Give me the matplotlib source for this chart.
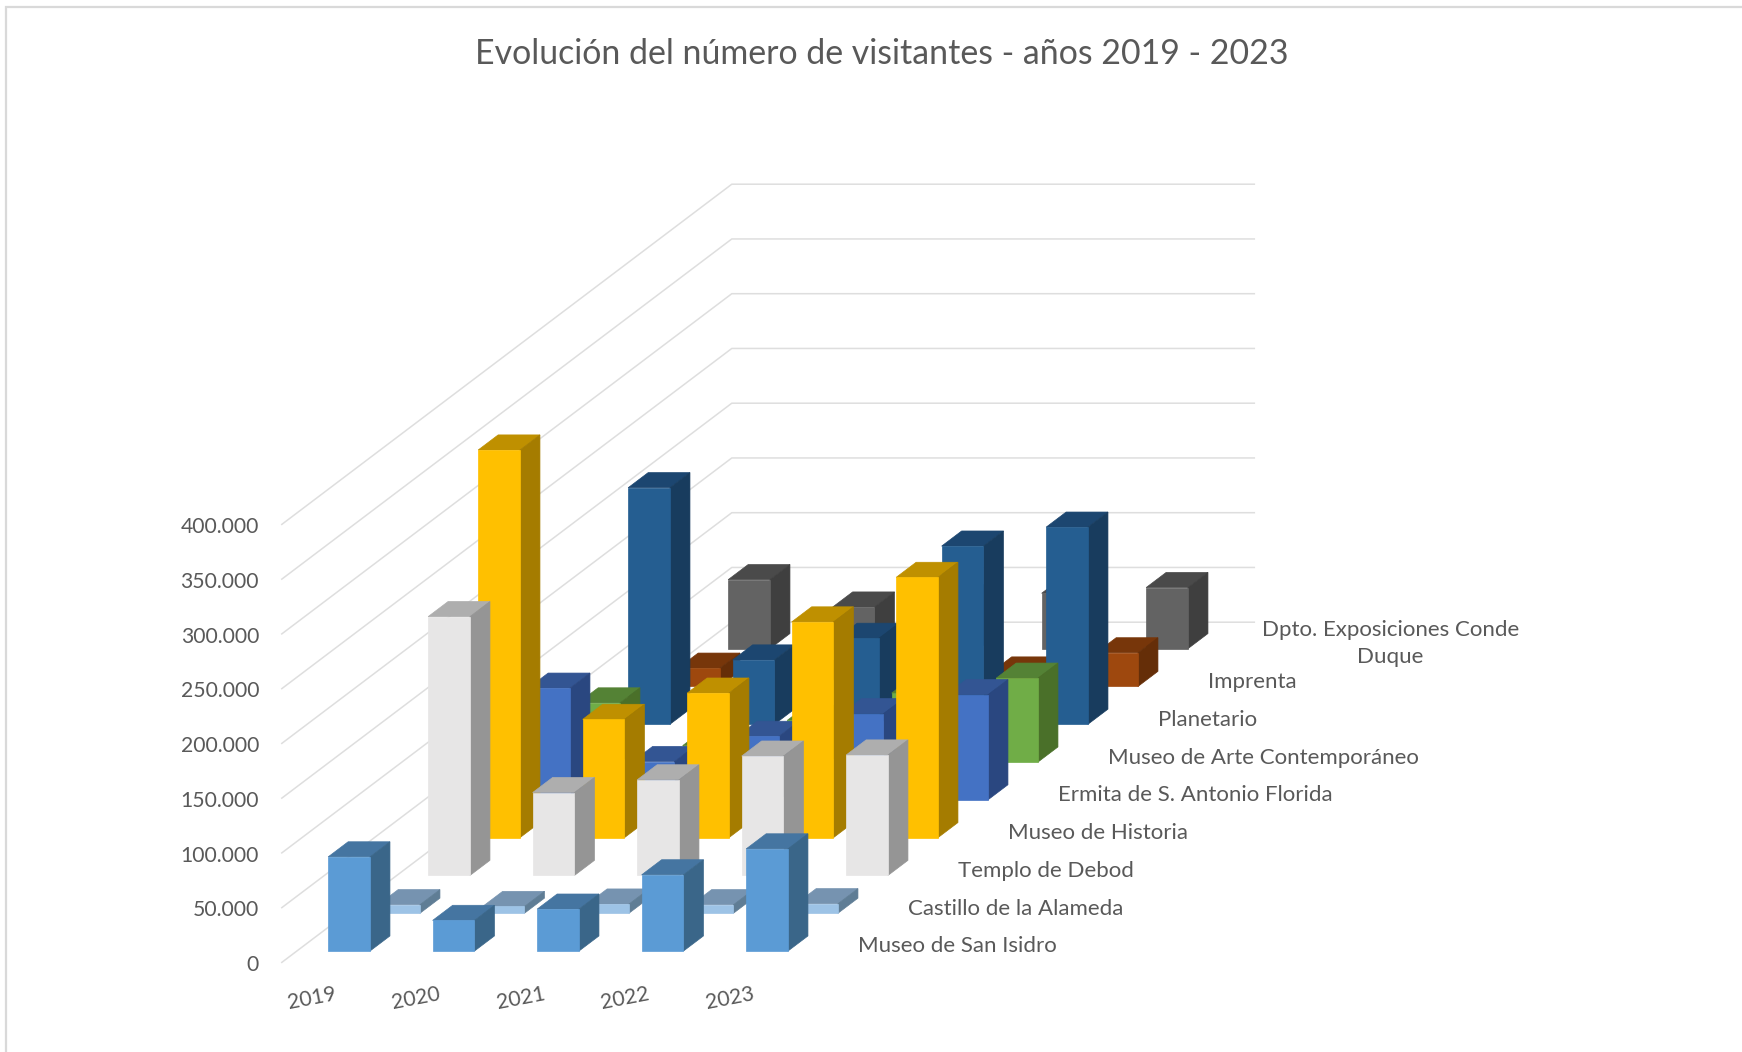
import matplotlib
matplotlib.use("Agg")
import matplotlib.pyplot as plt
from matplotlib.patches import Polygon

plt.rcParams['font.family'] = ['Lato', 'DejaVu Sans']

title = "Evolución del número de visitantes - años 2019 - 2023"
years = ["2019", "2020", "2021", "2022", "2023"]
series_names = ["Museo de San Isidro", "Castillo de la Alameda", "Templo de Debod",
                "Museo de Historia", "Ermita de S. Antonio Florida",
                "Museo de Arte Contemporáneo", "Planetario", "Imprenta",
                "Dpto. Exposiciones Conde\nDuque"]

san_isidro = [86000, 28000, 38300, 69600, 93300]
castillo = [7800, 6200, 8400, 7800, 8700]
templo = [236400, 75700, 87300, 109000, 110000]
historia = [354000, 108000, 132000, 197000, 237700]
ermita = [102000, 35000, 58000, 78700, 96000]
arte = [54000, 15000, 38000, 63000, 76600]
planetario = [216000, 58700, 78500, 162700, 180000]
imprenta = [16700, 10000, 12000, 13200, 30700]
conde_duque = [63000, 38000, 45000, 50600, 55800]
all_series = [san_isidro, castillo, templo, historia, ermita, arte, planetario, imprenta, conde_duque]

# front, top, side
front_colors = ["#5B9BD5", "#9DC3E6", "#E7E6E6", "#FFC000", "#4472C4", "#70AD47", "#255E91", "#9E480E", "#636363"]
top_colors = ["#4575A1", "#7693B0", "#AEAEAE", "#BF9000", "#335593", "#548235", "#1C4670", "#77360A", "#4A4A4A"]
side_colors = ["#3A6689", "#5F7D95", "#959595", "#A57C00", "#2A4780", "#4A7029", "#183C5E", "#652E08", "#3F3F3F"]

value_ticks = list(range(0, 400001, 50000))
TEXT = "#595959"
GRID = "#DEDEDE"

ORIGIN_X, ORIGIN_Y = 281.8, 962.4
CAT_DX, SER_DX, SER_DY, PX_PER_VALUE = 104.5, 50.0, 37.8, 54.75 / 50000


def project(cat, ser, val):
    return (ORIGIN_X + CAT_DX * cat + SER_DX * ser,
            ORIGIN_Y - SER_DY * ser - PX_PER_VALUE * val)


fig = plt.figure(figsize=(17.42, 10.52), dpi=100, facecolor="white")
ax = fig.add_axes([0, 0, 1, 1])
ax.set_xlim(0, 1742)
ax.set_ylim(1052, 0)
ax.axis("off")

# chart frame
ax.plot([6, 6, 1742], [1052, 7, 7], color="#D9D9D9", lw=1.6, solid_joinstyle="miter", zorder=0)

n_ser = len(all_series)
n_cat = len(years)

# walls
for v in value_ticks:
    a, b, c = project(0, 0, v), project(0, n_ser, v), project(n_cat, n_ser, v)
    ax.plot([a[0], b[0], c[0]], [a[1], b[1], c[1]], color=GRID, lw=1.1, zorder=1)
    ax.text(259, a[1] + 2.8, f"{v:,}".replace(",", "."), ha="right", va="center",
            fontsize=15.2, color=TEXT)

# bars, back to front
z = 2
for s in range(n_ser - 1, -1, -1):
    for c in range(n_cat):
        v = all_series[s][c]
        c0, c1, s0, s1 = c + 0.3, c + 0.7, s + 0.3, s + 0.7
        faces = [
            ([(c0, s0, v), (c1, s0, v), (c1, s1, v), (c0, s1, v)], top_colors[s]),
            ([(c1, s0, 0), (c1, s1, 0), (c1, s1, v), (c1, s0, v)], side_colors[s]),
            ([(c0, s0, 0), (c1, s0, 0), (c1, s0, v), (c0, s0, v)], front_colors[s]),
        ]
        for pts, col in faces:
            ax.add_patch(Polygon([project(*p) for p in pts], closed=True, facecolor=col,
                                 edgecolor=col, lw=0.5, zorder=z))
        z += 1

# category labels
for c, y in enumerate(years):
    px, py = project(c + 0.285, 0, 0)
    ax.text(px, py + 36, y, rotation=11, rotation_mode="anchor", ha="center", va="center",
            fontsize=15.2, color=TEXT)

# series labels
for s, name in enumerate(series_names):
    px, py = project(n_cat, s + 0.5, 0)
    if "\n" in name:
        ax.text(px + 161, py + 2.5, name, ha="center", va="center", multialignment="center",
                fontsize=16, color=TEXT, linespacing=1.47)
    else:
        ax.text(px + 28.5, py + 3, name, ha="left", va="center", fontsize=16, color=TEXT)

ax.text(881.5, 54, title, ha="center", va="center", fontsize=24.4, color=TEXT)

fig.savefig("out.png", dpi=100, facecolor="white")
